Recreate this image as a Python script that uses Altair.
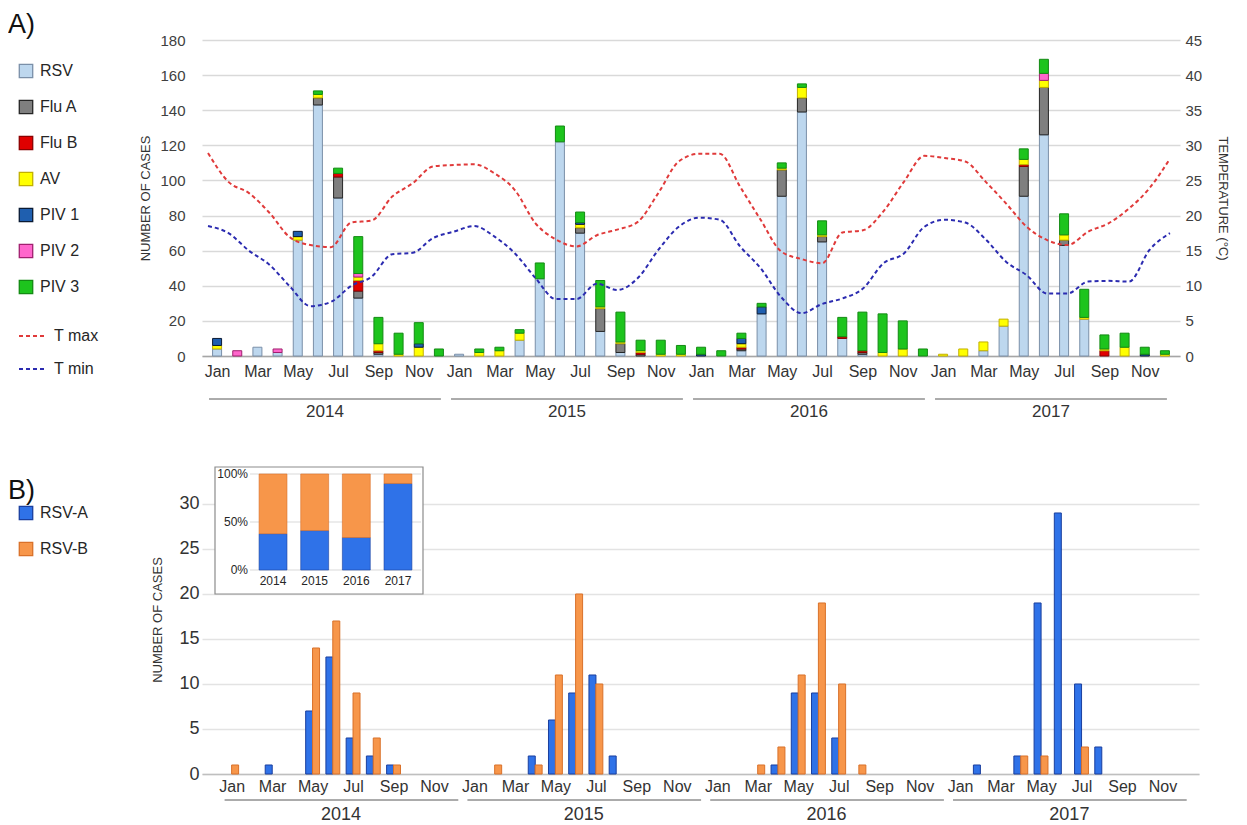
import altair as alt
import pandas as pd

FONT = "Liberation Sans, Arial, sans-serif"

# ---------------- data ----------------
years = ["2014", "2015", "2016", "2017"]
month_labels = ["Jan", "Mar", "May", "Jul", "Sep", "Nov"]

viruses = ["RSV", "Flu A", "Flu B", "AV", "PIV 1", "PIV 2", "PIV 3"]
virus_fill = ["#BDD7EE", "#7F7F7F", "#E00000", "#FFFF00", "#1F5FAF", "#FF66CC", "#1DC41D"]
virus_stroke = ["#7A8FA8", "#262626", "#8B0000", "#C2B000", "#0A1A33", "#A0206F", "#138A13"]

# monthly counts, Jan 2014 ... Dec 2017 (one row per year)
rsv = [4, 0, 5, 2, 66, 143, 90, 33, 1, 0, 0, 0,
       1, 0, 0, 9, 44, 122, 70, 14, 2, 0, 0, 0,
       0, 0, 3, 24, 91, 139, 65, 10, 1, 0, 0, 0,
       0, 0, 3, 17, 91, 126, 63, 21, 0, 0, 0, 0]
flu_a = [0, 0, 0, 0, 0, 4, 12, 4, 1, 0, 0, 0,
         0, 0, 0, 0, 0, 0, 3, 13, 5, 1, 0, 0,
         0, 0, 1, 0, 15, 8, 3, 0, 1, 0, 0, 0,
         0, 0, 0, 0, 17, 27, 3, 0, 0, 0, 0, 0]
flu_b = [0, 0, 0, 0, 0, 0, 2, 6, 1, 0, 0, 0,
         0, 0, 0, 0, 0, 0, 0, 0, 0, 1, 0, 0,
         0, 0, 1, 0, 0, 0, 0, 1, 1, 0, 0, 0,
         0, 0, 0, 0, 1, 0, 0, 0, 3, 0, 0, 0]
av = [2, 0, 0, 0, 2, 2, 0, 2, 4, 1, 5, 0,
      0, 2, 3, 4, 0, 0, 2, 1, 1, 1, 1, 1,
      0, 0, 2, 0, 1, 6, 1, 0, 0, 2, 4, 0,
      1, 4, 5, 4, 3, 4, 3, 1, 1, 5, 0, 1]
piv1 = [4, 0, 0, 0, 3, 0, 0, 0, 0, 0, 2, 0,
        0, 0, 0, 0, 0, 0, 1, 0, 0, 0, 0, 0,
        1, 0, 3, 4, 0, 0, 0, 0, 0, 0, 0, 0,
        0, 0, 0, 0, 0, 0, 0, 0, 0, 0, 1, 0]
piv2 = [0, 3, 0, 2, 0, 0, 0, 2, 0, 0, 0, 0,
        0, 0, 0, 0, 0, 0, 0, 0, 0, 0, 0, 0,
        0, 0, 0, 0, 0, 0, 0, 0, 0, 0, 0, 0,
        0, 0, 0, 0, 0, 4, 0, 0, 0, 0, 0, 0]
piv3 = [0, 0, 0, 0, 0, 2, 3, 21, 15, 12, 12, 4,
        0, 2, 2, 2, 9, 9, 6, 15, 17, 6, 8, 5,
        4, 3, 3, 2, 3, 2, 8, 11, 22, 22, 16, 4,
        0, 0, 0, 0, 6, 8, 12, 16, 8, 8, 4, 2]

t_max = [28.9, 24.8, 23.2, 20.4, 16.9, 15.8, 15.5, 19.0, 19.3, 22.7, 24.6, 27.0,
         27.2, 27.3, 26.0, 23.6, 18.9, 16.6, 15.6, 17.2, 18.0, 19.1, 23.2, 27.7,
         28.8, 28.8, 24.1, 19.4, 14.9, 13.8, 13.2, 17.6, 17.9, 20.6, 24.8, 28.5,
         28.2, 27.7, 24.8, 21.7, 18.4, 16.5, 15.8, 17.7, 18.9, 21.0, 23.9, 28.1]
t_min = [18.5, 17.5, 15.0, 13.0, 9.9, 7.1, 7.7, 10.0, 11.3, 14.5, 14.7, 16.8,
         17.7, 18.5, 17.0, 14.6, 11.1, 8.1, 8.1, 10.3, 9.4, 11.1, 15.1, 18.4,
         19.7, 19.4, 15.6, 12.5, 8.4, 6.1, 7.4, 8.2, 9.6, 13.2, 14.6, 18.4,
         19.4, 19.0, 16.6, 13.4, 11.5, 8.9, 8.9, 10.6, 10.7, 10.6, 15.1, 17.5]

rsv_types = ["RSV-A", "RSV-B"]
rsv_fill = ["#2F72E8", "#F7964A"]
rsv_stroke = ["#1A3F9E", "#D9712A"]
rsv_a = [0, 0, 1, 0, 7, 13, 4, 2, 1, 0, 0, 0,
         0, 0, 0, 2, 6, 9, 11, 2, 0, 0, 0, 0,
         0, 0, 0, 1, 9, 9, 4, 0, 0, 0, 0, 0,
         0, 1, 0, 2, 19, 29, 10, 3, 0, 0, 0, 0]
rsv_b = [1, 0, 0, 0, 14, 17, 9, 4, 1, 0, 0, 0,
         0, 1, 0, 1, 11, 20, 10, 0, 0, 0, 0, 0,
         0, 0, 1, 3, 11, 19, 10, 1, 0, 0, 0, 0,
         0, 0, 0, 2, 2, 0, 3, 0, 0, 0, 0, 0]

# ---------------- tables ----------------
series_a = [rsv, flu_a, flu_b, av, piv1, piv2, piv3]
rows = []
for o, (name, vals) in enumerate(zip(viruses, series_a)):
    for i, v in enumerate(vals):
        if v > 0:
            rows.append({"idx": i, "virus": name, "n": v, "ord": o})
df_a = pd.DataFrame(rows)

rows = []
for name, vals in [("T max", t_max), ("T min", t_min)]:
    for i, v in enumerate(vals):
        rows.append({"idx": i, "series": name, "temp": v})
df_t = pd.DataFrame(rows)

rows = []
for o, (name, vals) in enumerate(zip(rsv_types, [rsv_a, rsv_b])):
    for i, v in enumerate(vals):
        if v > 0:
            rows.append({"idx": i, "type": name, "n": v, "ord": o, "year": years[i // 12]})
df_b = pd.DataFrame(rows)

yr_df = pd.DataFrame({"year": years, "k": list(range(len(years)))})
pct_df = pd.DataFrame({"p": [0, 0.5, 1], "lab": ["0%", "50%", "100%"]})

label_js = "[" + ",".join("'%s'" % m for m in month_labels) + "]"
month_expr = label_js + "[floor((datum.value % 12) / 2)]"
month_vals = [k * 12 + 2 * j + 0.5 for k in range(len(years)) for j in range(len(month_labels))]

# ---------------- panel A ----------------
WA, HA = 978, 316

xA = alt.X("x:Q", scale=alt.Scale(domain=[0, 48], nice=False, zero=False),
           axis=alt.Axis(values=month_vals, labelExpr=month_expr, grid=False, ticks=False,
                         domainColor="#a6a6a6", domainWidth=1.5, labelFontSize=16,
                         labelColor="#333333", labelPadding=7, title=None))

legA = alt.Legend(orient="none", legendX=-184, legendY=23, title=None, symbolType="square",
                  symbolSize=180, symbolStrokeWidth=1.3, labelFontSize=16, labelColor="#262626",
                  rowPadding=16, labelOffset=6)

barsA = alt.Chart(df_a).transform_calculate(x="datum.idx + 0.5").mark_bar(size=9, strokeWidth=1).encode(
    x=xA,
    y=alt.Y("n:Q", stack="zero", scale=alt.Scale(domain=[0, 180], nice=False),
            axis=alt.Axis(values=list(range(0, 181, 20)), title="NUMBER OF CASES", grid=True,
                          gridColor="#d9d9d9", gridWidth=1.5, domain=False, ticks=False,
                          labelFontSize=15, labelColor="#404040", labelPadding=17,
                          titleFontSize=13, titleFontWeight="normal", titleColor="#333333",
                          titlePadding=7)),
    fill=alt.Fill("virus:N", scale=alt.Scale(domain=viruses, range=virus_fill), legend=legA),
    stroke=alt.Stroke("virus:N", scale=alt.Scale(domain=viruses, range=virus_stroke), legend=legA),
    order=alt.Order("ord:Q", sort="ascending"),
)

linesA = alt.Chart(df_t).transform_calculate(x="datum.idx * 47.7 / 47 + 0.05").mark_line(
    strokeDash=[4, 3], strokeWidth=2, interpolate="monotone").encode(
    x=alt.X("x:Q"),
    y=alt.Y("temp:Q", scale=alt.Scale(domain=[0, 45], nice=False),
            axis=alt.Axis(orient="right", values=list(range(0, 46, 5)), title="TEMPERATURE (°C)",
                          grid=False, domain=False, ticks=False, labelFontSize=15,
                          labelColor="#404040", labelPadding=5, titleFontSize=13,
                          titleFontWeight="normal", titleColor="#333333", titlePadding=14)),
    color=alt.Color("series:N", scale=alt.Scale(domain=["T max", "T min"], range=["#E03A3A", "#2B2BB0"]),
                    legend=alt.Legend(orient="none", legendX=-184, legendY=281, title=None,
                                      symbolType="stroke", symbolDash=[4, 3], symbolStrokeWidth=2,
                                      symbolSize=784, labelFontSize=16, labelColor="#262626",
                                      rowPadding=10, labelOffset=6)),
)

rulesA = alt.Chart(yr_df).transform_calculate(x="datum.k * 12 + 0.1", xe="datum.k * 12 + 11.6").mark_rule(
    color="#595959", strokeWidth=1).encode(x=alt.X("x:Q"), x2="xe:Q", y=alt.value(HA + 43))

yearsA = alt.Chart(yr_df).transform_calculate(x="datum.k * 12 + 5.85").mark_text(
    fontSize=17, color="#333333", baseline="middle", font=FONT).encode(
    x=alt.X("x:Q"), y=alt.value(HA + 56), text="year:N")

tagA = alt.Chart(pd.DataFrame({"t": ["A)"]})).mark_text(
    align="left", baseline="middle", fontSize=27, color="#111111", font=FONT).encode(
    text="t:N", x=alt.value(-194), y=alt.value(-15))

panelA = alt.layer(barsA, linesA, rulesA, yearsA, tagA).resolve_scale(y="independent").properties(
    width=WA, height=HA)

# ---------------- panel B ----------------
WB, HB = 997, 309

xB = alt.X("x:Q", scale=alt.Scale(domain=[-0.72, 48.06], nice=False, zero=False),
           axis=alt.Axis(values=month_vals, labelExpr=month_expr, grid=False, ticks=False,
                         domainColor="#bfbfbf", domainWidth=1.5, labelFontSize=16,
                         labelColor="#333333", labelPadding=4, title=None))

legB = alt.Legend(orient="none", legendX=-184, legendY=40, title=None, symbolType="square",
                  symbolSize=180, symbolStrokeWidth=1.3, labelFontSize=16, labelColor="#262626",
                  rowPadding=16, labelOffset=6)

barsB = alt.Chart(df_b).transform_calculate(
    x="datum.idx + 0.5 + (datum.ord == 0 ? -0.17 : 0.17)").mark_bar(size=7, strokeWidth=1).encode(
    x=xB,
    y=alt.Y("n:Q", stack=None, scale=alt.Scale(domain=[0, 34.33], nice=False),
            axis=alt.Axis(values=list(range(0, 31, 5)), title="NUMBER OF CASES", grid=True,
                          gridColor="#e3e3e3", gridWidth=1.5, domain=False, ticks=False,
                          labelFontSize=18, labelColor="#333333", labelPadding=3,
                          titleFontSize=13, titleFontWeight="normal", titleColor="#333333",
                          titlePadding=14)),
    fill=alt.Fill("type:N", scale=alt.Scale(domain=rsv_types, range=rsv_fill), legend=legB),
    stroke=alt.Stroke("type:N", scale=alt.Scale(domain=rsv_types, range=rsv_stroke), legend=legB),
)

rulesB = alt.Chart(yr_df).transform_calculate(x="datum.k * 12 + 0.15", xe="datum.k * 12 + 11.7").mark_rule(
    color="#595959", strokeWidth=1).encode(x=alt.X("x:Q"), x2="xe:Q", y=alt.value(HB + 26))

yearsB = alt.Chart(yr_df).transform_calculate(x="datum.k * 12 + 5.9").mark_text(
    fontSize=18, color="#333333", baseline="middle", font=FONT).encode(
    x=alt.X("x:Q"), y=alt.value(HB + 41), text="year:N")

tagB = alt.Chart(pd.DataFrame({"t": ["B)"]})).mark_text(
    align="left", baseline="middle", fontSize=27, color="#111111", font=FONT).encode(
    text="t:N", x=alt.value(-194), y=alt.value(26))

mainB = alt.layer(barsB, rulesB, yearsB, tagB)

# inset: share of RSV-A / RSV-B per year
frame = alt.Chart(pd.DataFrame({"a": [0]})).mark_rect(
    fill="white", stroke="#8c8c8c", strokeWidth=1.2).encode(
    x=alt.value(13), x2=alt.value(221), y=alt.value(2), y2=alt.value(129))

inset_grid = alt.Chart(pct_df).mark_rule(color="#d9d9d9", strokeWidth=1).encode(
    y=alt.Y("p:Q", axis=None), x=alt.value(48), x2=alt.value(219))

inset_bars = alt.Chart(df_b).mark_bar(strokeWidth=0.6).encode(
    x=alt.X("year:N", scale=alt.Scale(range=[50, 217], paddingInner=0.33, paddingOuter=0.17), axis=None),
    y=alt.Y("sum(n):Q", stack="normalize", scale=alt.Scale(range=[105, 9]), axis=None),
    fill=alt.Fill("type:N", scale=alt.Scale(domain=rsv_types, range=rsv_fill), legend=legB),
    stroke=alt.Stroke("type:N", scale=alt.Scale(domain=rsv_types, range=rsv_stroke), legend=legB),
    order=alt.Order("ord:Q", sort="ascending"),
)

inset_ylab = alt.Chart(pct_df).mark_text(align="right", baseline="middle", fontSize=12,
                                         color="#262626", font=FONT).encode(
    y=alt.Y("p:Q", axis=None), x=alt.value(46), text="lab:N")

inset_xlab = alt.Chart(yr_df).mark_text(baseline="middle", fontSize=12, color="#262626", font=FONT).encode(
    x=alt.X("year:N", axis=None), y=alt.value(116), text="year:N")

inset = alt.layer(frame, inset_grid, inset_bars, inset_ylab, inset_xlab)

panelB = alt.layer(mainB, inset).resolve_scale(x="independent", y="independent").properties(
    width=WB, height=HB)

chart = alt.vconcat(panelA, panelB, spacing=45).resolve_scale(
    fill="independent", stroke="independent", color="independent"
).resolve_legend(
    fill="independent", stroke="independent", color="independent"
).properties(
    padding={"left": 0, "top": 3, "right": 10, "bottom": 0}
).configure_view(stroke=None).configure_axis(
    labelFont=FONT, titleFont=FONT
).configure_legend(labelFont=FONT).configure_text(font=FONT)

chart.save("out.html", embed_options={"renderer": "svg", "actions": False})
